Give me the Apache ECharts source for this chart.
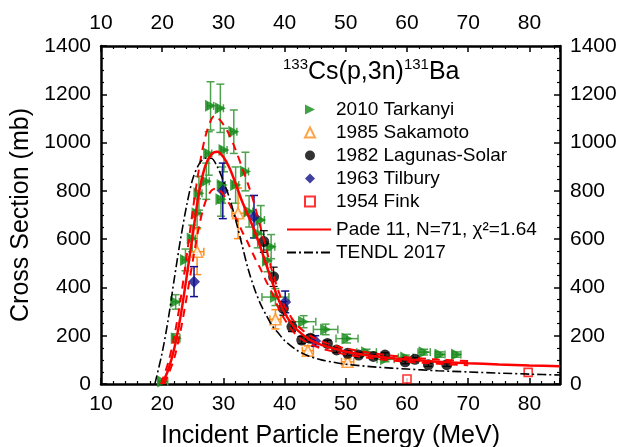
<!DOCTYPE html>
<html>
<head>
<meta charset="utf-8">
<script src="https://cdn.jsdelivr.net/npm/echarts@6/dist/echarts.min.js"></script>
<style>html,body{margin:0;padding:0;background:#fff}#c{width:624px;height:447px}</style>
</head>
<body>
<div id="c"></div>
<script>
// ---- data ----
// [energy MeV, cross section mb, d sigma, d energy]
const tarkanyi = [
  [20.1, 10, 4, 0.8], [22.3, 190, 18, 0.6], [22.2, 340, 30, 0.6], [23.8, 514, 45, 0.5],
  [24.9, 603, 55, 0.5], [25.7, 707, 60, 0.5], [26.0, 790, 70, 0.5], [27.2, 840, 75, 0.5],
  [27.6, 955, 90, 0.5], [27.9, 1152, 100, 0.5], [29.5, 1142, 100, 0.5], [30.1, 969, 90, 0.5],
  [31.7, 1045, 90, 0.5], [29.8, 824, 75, 0.5], [29.6, 765, 70, 0.5], [32.0, 824, 75, 0.5],
  [33.6, 880, 80, 0.5], [34.2, 715, 65, 0.6], [35.6, 624, 60, 0.6], [36.1, 679, 60, 0.6],
  [37.2, 510, 45, 0.6], [37.8, 569, 50, 0.6], [38.5, 360, 35, 2.2], [43.1, 258, 25, 2.0],
  [46.7, 226, 22, 2.0], [50.2, 188, 18, 1.8], [53.4, 132, 12, 1.6], [56.5, 102, 10, 1.4],
  [59.8, 110, 10, 1.2], [62.8, 132, 12, 1.0], [65.4, 122, 11, 0.8], [68.1, 122, 11, 0.7]
];
const sakamoto = [
  [25.7, 548, 95, 1.1], [32.4, 707, 105, 1.0], [38.5, 268, 40, 0.9], [43.8, 138, 20, 0.9], [50.3, 92, 12, 1.0]
];
const lagunas = [
  [36.6, 590, 45, 0], [38.2, 444, 40, 0], [39.8, 313, 28, 0], [41.2, 237, 20, 0], [42.8, 182, 15, 0],
  [44.2, 189, 15, 0], [47.0, 168, 13, 0], [48.5, 141, 11, 0], [50.3, 127, 10, 0], [52.1, 120, 10, 0],
  [54.5, 114, 9, 0], [56.4, 120, 9, 0], [59.7, 92, 8, 0], [61.3, 102, 8, 0], [63.5, 80, 7, 0], [66.5, 80, 7, 0]
];
const tilbury = [
  [25.2, 424, 62, 0], [29.9, 800, 115, 0], [35.0, 693, 88, 0], [40.1, 340, 45, 0], [45.0, 178, 22, 0]
];
const fink = [[60.0, 21], [79.8, 48]];

const fitE = [20, 21, 22, 23, 24, 25, 26, 27, 28, 29, 30, 31, 32, 33, 34, 35, 36, 37, 38, 39, 40, 41, 42, 44, 46, 48, 50, 55, 60, 65, 70, 75, 80, 85];
const fitV = [0, 60, 150, 280, 445, 620, 790, 900, 950, 962, 940, 895, 830, 760, 700, 640, 570, 495, 420, 350, 295, 255, 225, 185, 162, 147, 134, 114, 101, 92, 86, 81, 77, 74];
const upE = [19.8, 21, 22, 23, 24, 25, 26, 27, 28, 28.5, 29, 30, 31, 32, 33, 34, 35, 36, 37, 38, 39, 40, 42, 44, 46, 48, 50, 55, 60, 65, 70];
const upV = [0, 90, 200, 350, 530, 720, 890, 1020, 1095, 1110, 1105, 1075, 1030, 970, 900, 830, 750, 655, 560, 465, 385, 322, 245, 203, 177, 160, 147, 125, 111, 101, 95];
const loE = [20.3, 21, 22, 23, 24, 25, 26, 27, 28, 28.8, 29.5, 30, 31, 32, 33, 34, 35, 36, 37, 38, 39, 40, 42, 44, 46, 48, 50, 55, 60, 65, 70];
const loV = [0, 40, 110, 220, 360, 510, 650, 750, 800, 810, 800, 785, 745, 690, 635, 585, 530, 480, 425, 375, 315, 268, 200, 168, 147, 134, 122, 104, 92, 84, 78];
const tendlE = [18.8, 20, 21, 22, 23, 24, 25, 26, 27, 28, 29, 30, 31, 32, 33, 34, 35, 36, 37, 38, 39, 40, 42, 44, 46, 48, 50, 55, 60, 65, 70, 75, 80, 85];
const tendlV = [0, 130, 270, 440, 600, 740, 850, 910, 935, 935, 900, 840, 770, 680, 580, 480, 400, 335, 285, 240, 210, 180, 140, 115, 100, 90, 82, 70, 62, 55, 50, 45, 41, 37];

const xTicks = [10, 20, 30, 40, 50, 60, 70, 80];
const yTicks = [0, 200, 400, 600, 800, 1000, 1200, 1400];

const NAMES = ['2010 Tarkanyi', '1985 Sakamoto', '1982 Lagunas-Solar', '1963 Tilbury', '1954 Fink',
  'Pade 11, N=71, \u03c7\u00b2=1.64', 'TENDL 2017'];

// ---- chart ----
const FONT = 'Liberation Sans, Arial, sans-serif';
const zip = (a, b) => a.map((v, i) => [v, b[i]]);

function errRender(color, cap, lw) {
  return function (params, api) {
    const x = api.value(0), y = api.value(1), dy = api.value(2), dx = api.value(3);
    const c = api.coord([x, y]);
    const st = { stroke: color, lineWidth: lw };
    const ch = [];
    if (dy > 0) {
      const t = api.coord([x, y + dy]), b = api.coord([x, Math.max(0, y - dy)]);
      ch.push({ type: 'line', shape: { x1: c[0], y1: t[1], x2: c[0], y2: b[1] }, style: st });
      ch.push({ type: 'line', shape: { x1: c[0] - cap, y1: t[1], x2: c[0] + cap, y2: t[1] }, style: st });
      ch.push({ type: 'line', shape: { x1: c[0] - cap, y1: b[1], x2: c[0] + cap, y2: b[1] }, style: st });
    }
    if (dx > 0) {
      const l = api.coord([x - dx, y]), r = api.coord([x + dx, y]);
      ch.push({ type: 'line', shape: { x1: l[0], y1: c[1], x2: r[0], y2: c[1] }, style: st });
      ch.push({ type: 'line', shape: { x1: l[0], y1: c[1] - cap, x2: l[0], y2: c[1] + cap }, style: st });
      ch.push({ type: 'line', shape: { x1: r[0], y1: c[1] - cap, x2: r[0], y2: c[1] + cap }, style: st });
    }
    return { type: 'group', children: ch };
  };
}
function errSeries(data, color, lw) {
  return { type: 'custom', data: data, renderItem: errRender(color, 4, lw), encode: { x: 0, y: 1 }, z: 2, silent: true };
}

const axisCommon = {
  type: 'value',
  splitLine: { show: false },
  axisLine: { show: true, onZero: false, lineStyle: { color: '#000', width: 2.5 } },
  axisTick: { show: true, inside: true, length: 6, lineStyle: { color: '#000', width: 1.5 } },
  minorTick: { show: true, length: 3, lineStyle: { color: '#000', width: 1.2 } },
  axisLabel: { color: '#000', fontSize: 21, fontFamily: FONT, showMaxLabel: false, formatter: v => String(v) }
};
function xAx(pos, extra) {
  return Object.assign({}, axisCommon, {
    position: pos, min: xTicks[0], max: 85, interval: 10,
    minorTick: Object.assign({}, axisCommon.minorTick, { splitNumber: 5 }),
    axisLabel: Object.assign({}, axisCommon.axisLabel, { margin: pos === 'top' ? 12 : 10 })
  }, extra || {});
}
function yAx(pos, extra) {
  return Object.assign({}, axisCommon, {
    position: pos, min: yTicks[0], max: yTicks[yTicks.length - 1], interval: 200,
    minorTick: Object.assign({}, axisCommon.minorTick, { splitNumber: 4 }),
    axisLabel: Object.assign({}, axisCommon.axisLabel, { showMaxLabel: true, margin: 10 })
  }, extra || {});
}

const legendText = { fontSize: 19, fontFamily: FONT, color: '#000' };

const chart = echarts.init(document.getElementById('c'), null, { renderer: 'canvas' });
chart.setOption({
  animation: false,
  backgroundColor: '#fff',
  grid: { left: 101, right: 64, top: 46, bottom: 63, containLabel: false, outerBoundsMode: 'none' },
  title: {
    text: '{s|133}{b|Cs(p,3n)}{s|131}{b|Ba}',
    left: 283, top: 57, padding: 0,
    textStyle: {
      fontWeight: 'normal',
      rich: {
        b: { fontSize: 25, fontFamily: FONT, fontWeight: 'normal', color: '#000', lineHeight: 30 },
        s: { fontSize: 15, fontFamily: FONT, fontWeight: 'normal', color: '#000', lineHeight: 15, verticalAlign: 'top' }
      }
    }
  },
  legend: [
    {
      orient: 'vertical', left: 304, top: 100, padding: 0, itemWidth: 10, itemHeight: 10, itemGap: 4,
      textStyle: Object.assign({ padding: [0, 0, 0, 16] }, legendText),
      data: NAMES.slice(0, 5)
    },
    {
      orient: 'vertical', left: 286, top: 220, padding: 0, itemWidth: 44, itemHeight: 10, itemGap: 4,
      textStyle: legendText,
      itemStyle: { opacity: 0 },
      data: NAMES.slice(5)
    }
  ],
  xAxis: [
    xAx('bottom', { name: 'Incident Particle Energy (MeV)', nameLocation: 'middle', nameGap: 40,
      nameTextStyle: { fontSize: 25, fontFamily: FONT, color: '#000' } }),
    xAx('top')
  ],
  yAxis: [
    yAx('left', { name: 'Cross Section (mb)', nameLocation: 'middle', nameGap: 62,
      nameTextStyle: { fontSize: 25, fontFamily: FONT, color: '#000' } }),
    yAx('right')
  ],
  series: [
    errSeries(tarkanyi, '#4ea24e', 1.5),
    errSeries(sakamoto, '#ff8c1a', 1.5),
    errSeries(lagunas, '#000', 1.2),
    errSeries(tilbury, '#101090', 1.5),
    { name: NAMES[0], type: 'scatter', data: tarkanyi.map(d => [d[0], d[1]]), z: 3,
      symbol: 'path://M0,0 L10,5 L0,10 Z', symbolSize: [11, 12], itemStyle: { color: '#138a17' } },
    { name: NAMES[1], type: 'scatter', data: sakamoto.map(d => [d[0], d[1]]), z: 3,
      symbol: 'triangle', symbolSize: 11, itemStyle: { color: '#fff', borderColor: '#ff8c1a', borderWidth: 1.6 } },
    { name: NAMES[2], type: 'scatter', data: lagunas.map(d => [d[0], d[1]]), z: 3,
      symbol: 'circle', symbolSize: 11, itemStyle: { color: '#000' } },
    { name: NAMES[3], type: 'scatter', data: tilbury.map(d => [d[0], d[1]]), z: 3,
      symbol: 'diamond', symbolSize: 12, itemStyle: { color: '#10108a' } },
    { name: NAMES[4], type: 'scatter', data: fink, z: 3,
      symbol: 'rect', symbolSize: 8, itemStyle: { color: '#fff', borderColor: '#ff0000', borderWidth: 1.6 } },
    { name: 'fit upper', type: 'line', data: zip(upE, upV), symbol: 'none', smooth: 0.3, z: 4,
      lineStyle: { color: '#ff0000', width: 2, type: [8, 6] } },
    { name: 'fit lower', type: 'line', data: zip(loE, loV), symbol: 'none', smooth: 0.3, z: 4,
      lineStyle: { color: '#ff0000', width: 2, type: [8, 6] } },
    { name: NAMES[6], type: 'line', data: zip(tendlE, tendlV), symbol: 'none', smooth: 0.3, z: 4,
      itemStyle: { color: '#000' },
      lineStyle: { color: '#000', width: 1.6, type: [9, 3, 2, 3] } },
    { name: NAMES[5], type: 'line', data: zip(fitE, fitV), symbol: 'none', smooth: 0.3, z: 5,
      itemStyle: { color: '#ff0000' },
      lineStyle: { color: '#ff0000', width: 2.5 } }
  ]
});
</script>
</body>
</html>
